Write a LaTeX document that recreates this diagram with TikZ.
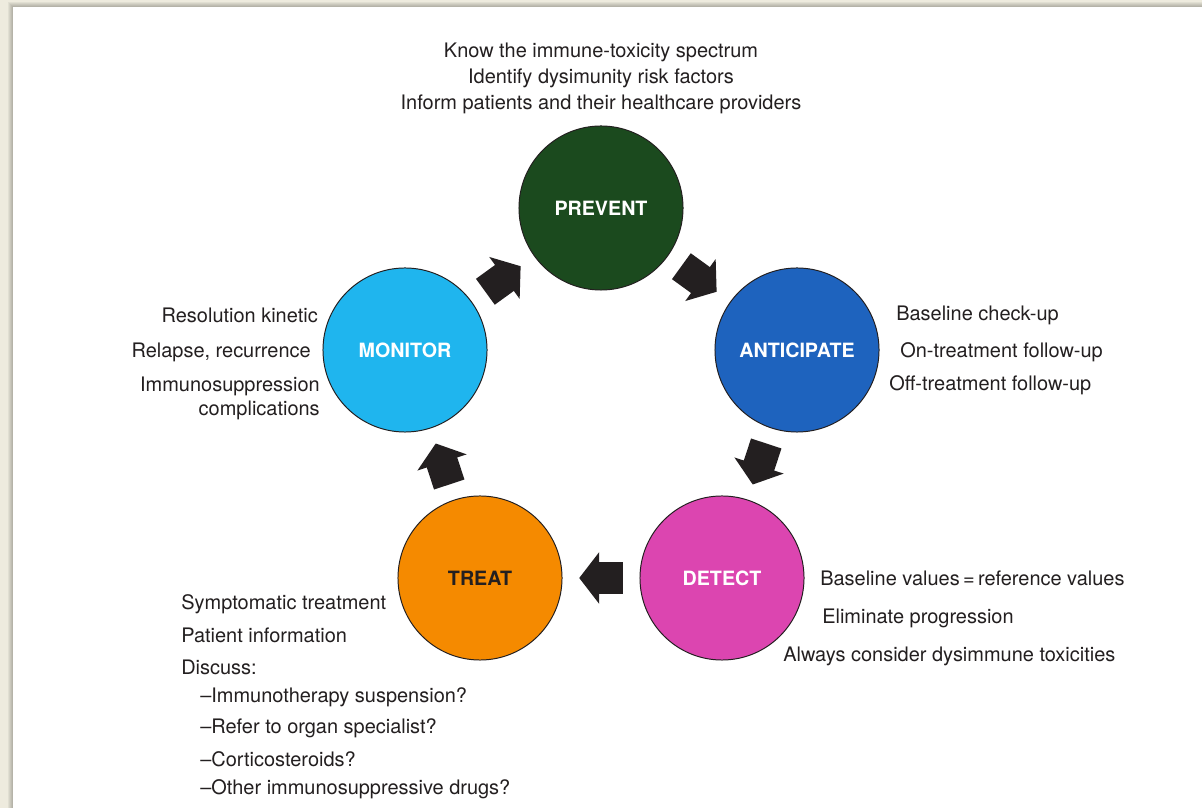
\documentclass[tikz,border=0pt]{standalone}
\usepackage{fontspec}
\setmainfont{TeX Gyre Heros}
\usetikzlibrary{arrows.meta,calc}

\definecolor{preventgreen}{RGB}{27,74,30}
\definecolor{anticipateblue}{RGB}{30,99,190}
\definecolor{detectpink}{RGB}{220,69,176}
\definecolor{treatorange}{RGB}{245,138,0}
\definecolor{monitorcyan}{RGB}{31,181,238}
\definecolor{inkgray}{RGB}{35,31,32}
\definecolor{pagebeige}{RGB}{238,235,222}

\tikzset{
    stage/.style={circle, draw=inkgray, line width=0.7pt, minimum size=4.1cm,
        font=\bfseries\fontsize{14}{17}\selectfont, text=white},
    note/.style={inner sep=0pt, text=inkgray, font=\fontsize{14.2}{17}\selectfont},
    flow/.style={line width=0.8cm, inkgray, -{Triangle[length=0.5cm,width=1.27cm]}},
}

\begin{document}
\begin{tikzpicture}[x=0.025cm,y=0.025cm]
    \useasboundingbox (0,0) rectangle (1202,808);
    % page lying on the desk
    \fill[pagebeige] (0,0) rectangle (1202,808);
    \foreach \s in {5,4,3,2,1}
        \fill[black,opacity=0.05] (13-\s,0) rectangle (1202,801+\s);
    \fill[white] (13,0) rectangle (1202,801);

    % the five stages
    \node[stage, fill=preventgreen] (prevent) at (601,600) {PREVENT};
    \node[stage, fill=anticipateblue] (anticipate) at (797,458) {ANTICIPATE};
    \node[stage, fill=detectpink] (detect) at (722,230) {DETECT};
    \node[stage, fill=treatorange, text=inkgray] (treat) at (480,230) {TREAT};
    \node[stage, fill=monitorcyan] (monitor) at (405,458) {MONITOR};

    % block arrows round the cycle
    \draw[flow] ($(prevent)!0.41!(anticipate)$) -- ($(prevent)!0.59!(anticipate)$);
    \draw[flow] ($(anticipate)!0.41!(detect)$) -- ($(anticipate)!0.59!(detect)$);
    \draw[flow] ($(detect)!0.41!(treat)$) -- ($(detect)!0.59!(treat)$);
    \draw[flow] ($(treat)!0.41!(monitor)$) -- ($(treat)!0.59!(monitor)$);
    \draw[flow] ($(monitor)!0.41!(prevent)$) -- ($(monitor)!0.59!(prevent)$);

    % prevent
    \node[note, align=center, font=\fontsize{14.2}{18.5}\selectfont] (preventtxt) at (601,730)
        {Know the immune-toxicity spectrum\\Identify dysimunity risk factors\\Inform patients and their healthcare providers};

    % anticipate
    \node[note, anchor=west] (ant1) at (896,493) {Baseline check-up};
    \node[note, anchor=west] (ant2) at (900,456) {On-treatment follow-up};
    \node[note, anchor=west] (ant3) at (889,423) {Off-treatment follow-up};

    % detect
    \node[note, anchor=west] (det1) at (820,230) {Baseline values\,=\,reference values};
    \node[note, anchor=west] (det2) at (822,190) {Eliminate progression};
    \node[note, anchor=west] (det3) at (783,152) {Always consider dysimmune toxicities};

    % treat
    \node[note, anchor=west] (tre1) at (181,204) {Symptomatic treatment};
    \node[note, anchor=west] (tre2) at (181,173) {Patient information};
    \node[note, anchor=west] (tre3) at (181,141) {Discuss:};
    \node[note, anchor=west] (tre4) at (200,111) {--Immunotherapy suspension?};
    \node[note, anchor=west] (tre5) at (200,80) {--Refer to organ specialist?};
    \node[note, anchor=west] (tre6) at (200,49) {--Corticosteroids?};
    \node[note, anchor=west] (tre7) at (200,19) {--Other immunosuppressive drugs?};

    % monitor
    \node[note, anchor=east] (mon1) at (318,493) {Resolution kinetic};
    \node[note, anchor=east] (mon2) at (311,456) {Relapse, recurrence};
    \node[note, anchor=east, align=right] (mon3) at (320,410) {Immunosuppression\\complications};
\end{tikzpicture}
\end{document}
